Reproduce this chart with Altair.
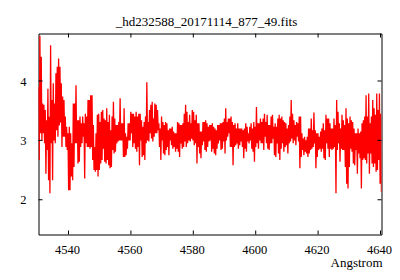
import altair as alt
import pandas as pd
import numpy as np

title_text = "_hd232588_20171114_877_49.fits"
x_title = "Angstrom"
x_ticks = [4540, 4560, 4580, 4600, 4620, 4640]
y_ticks = [2, 3, 4]
wl_start, wl_end = 4530.4, 4640.3
x_domain = [4530.38, 4640.32]
y_domain = [1.415, 4.80]

# upper / lower envelope of the spectrum
flux_high = [
    3.90, 4.76, 4.41, 3.62, 3.60, 3.51, 3.34, 3.87, 3.40, 4.60, 3.68, 3.96, 3.62, 4.13, 4.24, 4.38, 4.24, 3.96,
    3.74, 3.68, 3.40, 3.23, 3.12, 3.23, 3.12, 2.95, 3.62, 3.62, 3.93, 3.34, 3.34, 3.40, 3.29, 3.40, 3.29,
    3.45, 3.40, 3.68, 3.68, 3.76, 3.76, 3.26, 2.89, 3.12, 3.43, 3.45, 3.31, 3.48, 3.51, 3.37, 3.34, 3.54, 3.31,
    3.43, 3.17, 3.40, 3.65, 3.37, 3.26, 3.26, 3.31, 3.71, 3.29, 3.29, 3.54, 3.12, 3.06, 3.29, 3.29, 3.48, 3.45,
    3.45, 3.40, 3.48, 3.40, 3.45, 3.45, 3.34, 3.23, 3.31, 3.40, 3.98, 3.31, 3.51, 3.60, 3.65, 3.37, 3.62, 3.60,
    3.51, 3.29, 3.20, 3.40, 3.31, 3.26, 3.31, 3.29, 3.17, 3.20, 3.20, 3.23, 3.15, 3.12, 3.12, 3.31, 3.29, 3.26,
    3.26, 3.29, 3.45, 3.60, 3.48, 3.31, 3.43, 3.29, 3.51, 3.48, 3.34, 3.43, 3.29, 3.29, 3.15, 3.15, 3.31, 3.31,
    3.34, 3.29, 3.23, 3.26, 3.26, 3.29, 3.23, 3.20, 3.17, 3.26, 3.26, 3.29, 3.29, 3.31, 3.37, 3.54, 3.31, 3.37,
    3.37, 3.40, 3.31, 3.26, 3.29, 3.20, 3.29, 3.20, 3.20, 3.20, 3.17, 3.20, 3.29, 3.23, 3.12, 3.23, 3.29, 3.20,
    3.31, 3.23, 3.56, 3.29, 3.29, 3.37, 3.31, 3.37, 3.45, 3.31, 3.43, 3.26, 3.26, 3.40, 3.43, 3.23, 3.29, 3.23,
    3.37, 3.43, 3.37, 3.40, 3.34, 3.31, 3.29, 3.20, 3.26, 3.40, 3.68, 3.45, 3.34, 3.26, 3.31, 3.29, 3.40, 3.40,
    3.12, 3.03, 3.06, 3.00, 3.06, 3.20, 3.20, 3.37, 3.17, 3.47, 3.17, 3.12, 3.12, 3.06, 3.15, 3.20, 3.29, 3.17,
    3.43, 3.37, 3.37, 3.29, 3.20, 3.20, 3.37, 3.26, 3.68, 3.48, 3.29, 3.20, 3.43, 3.34, 3.26, 3.54, 3.37, 3.29,
    3.40, 3.34, 3.31, 3.20, 3.12, 3.12, 3.20, 3.12, 3.15, 3.29, 3.34, 3.40, 3.76, 3.40, 3.79, 3.29, 3.40, 3.68,
    3.54, 3.43, 3.79, 3.51, 3.79, 3.45,
]
flux_low = [
    2.67, 3.12, 3.00, 3.12, 2.95, 2.44, 2.84, 2.33, 2.11, 2.95, 2.33, 3.00, 2.95, 3.17, 3.06, 3.25, 3.30, 2.89,
    3.06, 3.06, 2.89, 2.84, 2.16, 2.16, 2.39, 2.33, 2.55, 2.95, 2.95, 2.61, 2.64, 2.89, 2.95, 3.06, 2.36,
    2.95, 2.89, 2.89, 2.86, 2.89, 2.67, 2.50, 2.47, 2.50, 2.39, 2.50, 2.61, 2.67, 2.86, 2.64, 2.61, 2.67, 2.58,
    2.53, 2.55, 2.84, 2.78, 2.81, 2.95, 2.98, 3.00, 3.00, 3.00, 2.72, 2.72, 2.75, 2.86, 3.00, 3.00, 3.12, 2.89,
    2.95, 2.86, 2.81, 2.89, 2.58, 3.00, 2.72, 2.75, 2.67, 2.95, 3.00, 2.98, 3.12, 3.03, 2.98, 3.06, 3.12, 3.12,
    3.17, 2.89, 2.67, 3.00, 2.78, 2.75, 2.84, 2.89, 2.75, 3.00, 2.92, 2.86, 2.89, 2.81, 2.86, 2.81, 2.72, 2.95,
    2.86, 2.89, 2.98, 2.89, 2.95, 3.00, 2.98, 3.03, 3.00, 2.92, 2.95, 2.61, 2.89, 2.78, 2.70, 2.92, 2.98, 2.84,
    2.81, 2.89, 2.98, 3.00, 2.81, 2.86, 2.78, 2.75, 2.86, 2.95, 3.00, 2.84, 2.86, 2.98, 2.78, 3.00, 3.06, 3.12,
    2.89, 2.89, 2.58, 2.89, 2.92, 2.95, 2.86, 2.92, 2.98, 2.89, 2.70, 2.86, 2.81, 2.98, 2.95, 3.00, 2.86, 2.81,
    2.64, 2.89, 2.95, 2.86, 3.00, 2.95, 2.95, 2.84, 3.06, 2.95, 2.86, 2.84, 2.95, 2.95, 3.03, 2.75, 2.72, 2.95,
    2.78, 2.67, 2.86, 2.95, 2.81, 2.89, 2.92, 2.78, 2.95, 2.98, 3.03, 2.95, 3.00, 2.92, 3.06, 2.98, 2.53, 2.72,
    2.84, 2.75, 2.81, 2.78, 2.72, 2.78, 2.84, 2.86, 2.89, 2.95, 2.53, 2.72, 2.84, 2.86, 2.81, 2.86, 2.70, 2.67,
    2.95, 2.86, 2.72, 2.86, 2.84, 2.86, 2.89, 2.11, 2.84, 2.95, 2.64, 2.86, 2.84, 2.84, 2.55, 2.27, 2.19, 2.55,
    2.86, 2.81, 2.61, 2.58, 2.84, 2.44, 2.78, 2.70, 2.19, 2.67, 2.70, 2.67, 2.61, 2.78, 2.44, 2.78, 2.61, 2.55,
    2.61, 2.47, 2.50, 2.67, 2.27, 2.13,
]

n = min(len(flux_high), len(flux_low))
flux = []
for h, l in zip(flux_high[:n], flux_low[:n]):
    flux += [h, l]
wl = np.linspace(wl_start, wl_end, 2 * n)
df = pd.DataFrame({"wl": wl, "flux": flux})

W, H = 343, 201
FONT = "Liberation Serif"
TL = 4

xscale = alt.Scale(domain=x_domain, nice=False, zero=False)
yscale = alt.Scale(domain=y_domain, nice=False, zero=False)

x_axis = alt.Axis(
    values=x_ticks, ticks=False, grid=False, domain=False, format="d",
    labelPadding=8.5, labelOffset=-1.5, labelFont=FONT, labelFontSize=12.5, labelColor="black",
    labelFlush=False,
    title=x_title, titleFont=FONT, titleFontSize=13, titleFontWeight="normal", titleColor="black",
    titleAlign="right", titleX=W + 0.5, titleY=32, titleBaseline="alphabetic")
y_axis = alt.Axis(
    values=y_ticks, ticks=False, grid=False, domain=False, format="d",
    labelPadding=12.5, labelFont=FONT, labelFontSize=12.5, labelColor="black", labelFlush=False,
    title=None)

x_enc = alt.X("wl:Q", scale=xscale, axis=x_axis)
y_enc = alt.Y("flux:Q", scale=yscale, axis=y_axis)

line = alt.Chart(df).mark_line(color="#ff0000", strokeWidth=1.3, clip=True).encode(x=x_enc, y=y_enc)

xt = pd.DataFrame({"wl": x_ticks})
yt = pd.DataFrame({"flux": y_ticks})

bottom_ticks = alt.Chart(xt).mark_rule(color="black", strokeWidth=1).encode(
    x=x_enc, y=alt.value(H), y2=alt.value(H - TL))
top_ticks = alt.Chart(xt).mark_rule(color="black", strokeWidth=1).encode(
    x=x_enc, y=alt.value(0), y2=alt.value(TL))
left_ticks = alt.Chart(yt).mark_rule(color="black", strokeWidth=1).encode(
    y=y_enc, x=alt.value(0), x2=alt.value(TL))
right_ticks = alt.Chart(yt).mark_rule(color="black", strokeWidth=1).encode(
    y=y_enc, x=alt.value(W - TL), x2=alt.value(W))

chart = alt.layer(line, bottom_ticks, top_ticks, left_ticks, right_ticks).properties(
    width=W, height=H,
    background="white",
    title=alt.TitleParams(text=title_text, font=FONT, fontSize=13, fontWeight="normal", color="black",
                          anchor="middle", baseline="bottom", offset=7, dx=-3.5, dy=16),
    padding={"left": 30.5, "top": 25.5, "right": 10, "bottom": 36},
    autosize=alt.AutoSizeParams(type="none"),
).configure_view(stroke="black", strokeWidth=1)

chart.save("out.html", embed_options={"renderer": "svg", "actions": False})
